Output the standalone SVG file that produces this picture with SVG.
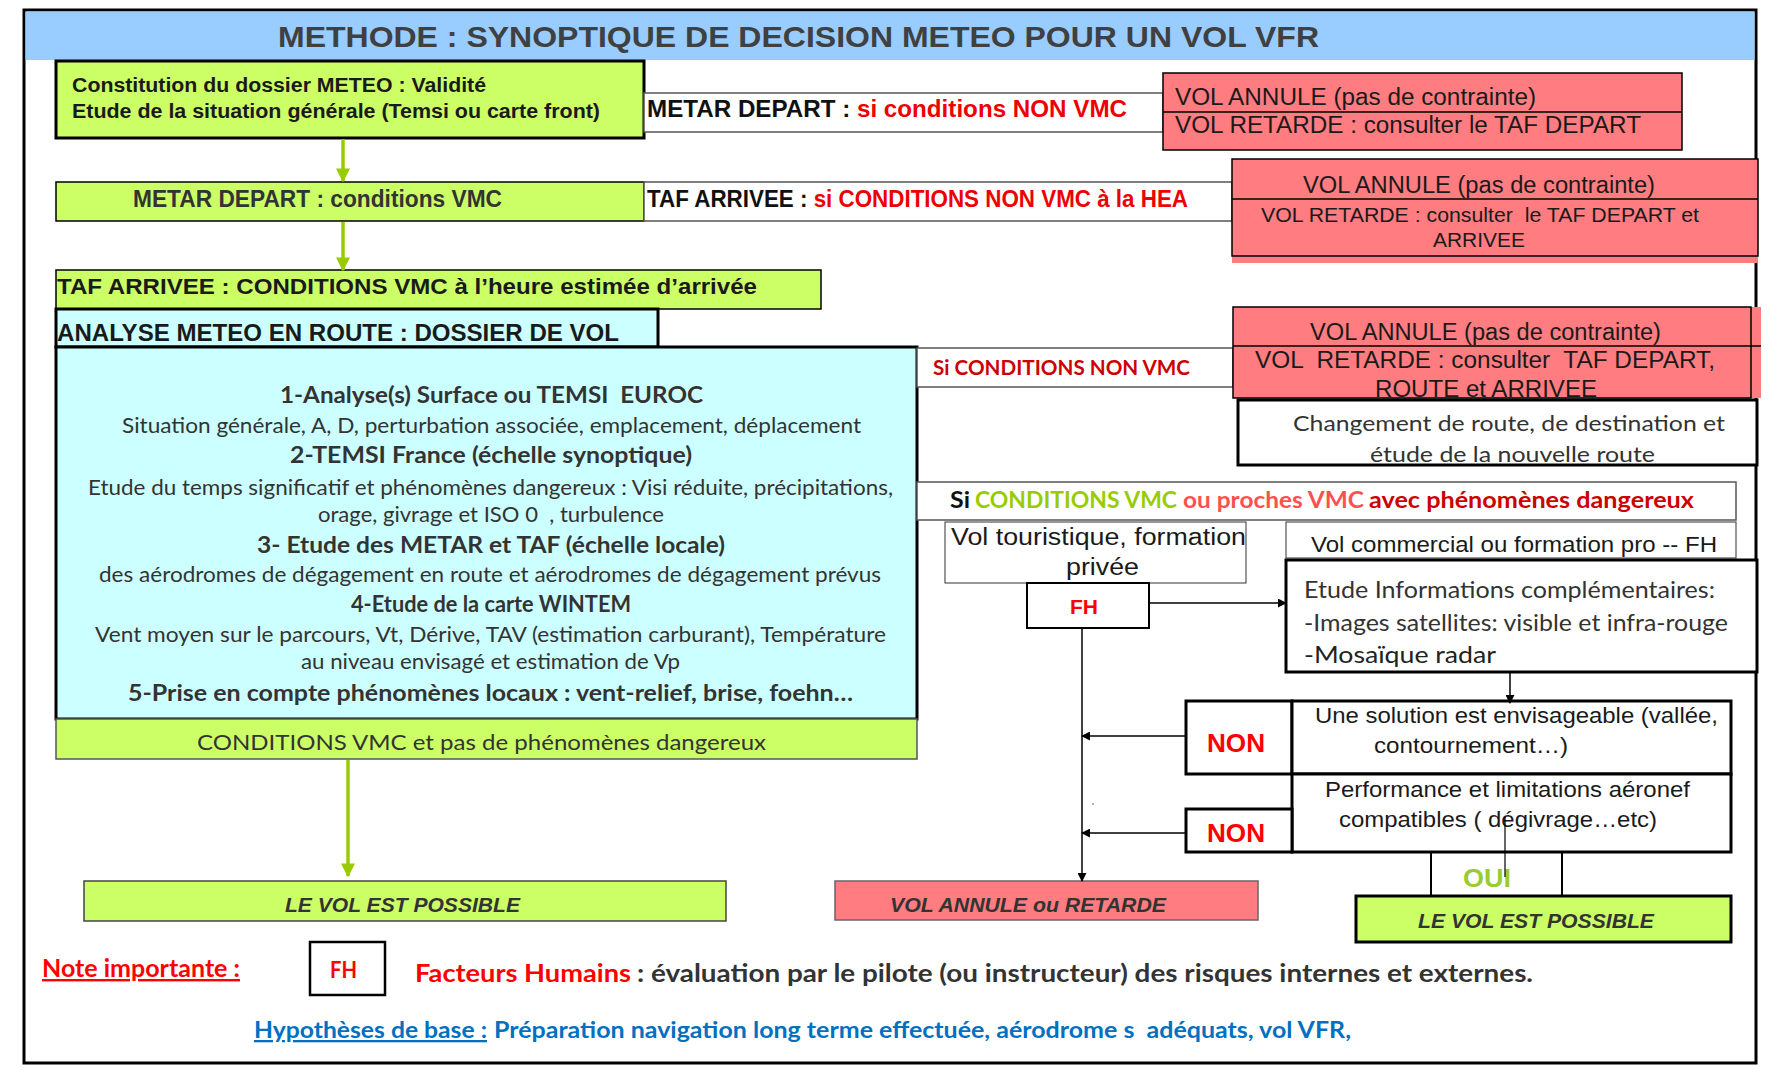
<svg xmlns="http://www.w3.org/2000/svg" width="1774" height="1078" viewBox="0 0 1774 1078">
<style>
.a{font-family:"Liberation Sans",Arial,sans-serif;white-space:pre}
.c{font-family:Lato,"Open Sans",sans-serif;white-space:pre}
.b{font-weight:bold}
.i{font-style:italic}
.green{fill:#CCFF66}
.red{fill:#FF7C80}
.cyan{fill:#CCFFFF}
.thin{stroke:#000;stroke-width:1.5}
.thick{stroke:#000;stroke-width:3}
.gline{fill:#fff;stroke:#555;stroke-width:1.5}
.dk{fill:#1a1a1a}
.gr{fill:#333}
</style>
<defs>
<marker id="ga" viewBox="0 0 10 10" refX="9" refY="5" markerWidth="4" markerHeight="4" orient="auto" markerUnits="strokeWidth"><path d="M0,0 L10,5 L0,10 z" fill="#99CC00"/></marker>
<marker id="ka" viewBox="0 0 10 10" refX="9" refY="5" markerWidth="9" markerHeight="9" orient="auto" markerUnits="userSpaceOnUse"><path d="M0,0 L10,5 L0,10 z" fill="#000"/></marker>
</defs>
<rect x="0" y="0" width="1774" height="1078" fill="#fff"/>
<g id="frame">
<rect x="24" y="10" width="1732" height="1053" fill="#fff" stroke="#000" stroke-width="3"/>
<rect x="25.5" y="11.5" width="1729" height="48.5" fill="#99CCFF"/>
<text class="a b" x="278" y="47" font-size="30" fill="#404040" textLength="1041" lengthAdjust="spacingAndGlyphs">METHODE : SYNOPTIQUE DE DECISION METEO POUR UN VOL VFR</text>
</g>
<g id="n-dossier">
<rect x="56" y="61" width="588" height="77" class="green thick"/>
<text class="a b dk" x="72" y="92" font-size="20" textLength="414" lengthAdjust="spacingAndGlyphs">Constitution du dossier METEO : Validité</text>
<text class="a b dk" x="72" y="118" font-size="20" textLength="528" lengthAdjust="spacingAndGlyphs">Etude de la situation générale (Temsi ou carte front)</text>
</g>
<g id="n-metar-nonvmc">
<rect x="644" y="93" width="519" height="39" class="gline"/>
<text class="a b" x="647" y="117" font-size="23" textLength="480" lengthAdjust="spacingAndGlyphs"><tspan fill="#111">METAR DEPART : </tspan><tspan fill="#EE0000">si conditions NON VMC</tspan></text>
</g>
<g id="n-red1">
<rect x="1163" y="73" width="519" height="77" class="red thin"/>
<line x1="1163" y1="112" x2="1682" y2="112" class="thin"/>
<text class="a dk" x="1175" y="105" font-size="23" textLength="361" lengthAdjust="spacingAndGlyphs">VOL ANNULE (pas de contrainte)</text>
<text class="a dk" x="1175" y="133" font-size="23" textLength="466" lengthAdjust="spacingAndGlyphs">VOL RETARDE : consulter le TAF DEPART</text>
</g>
<g id="n-metar-vmc">
<rect x="56" y="182" width="588" height="39" class="green thin"/>
<text class="a b" x="133" y="207" font-size="23" fill="#333" textLength="369" lengthAdjust="spacingAndGlyphs">METAR DEPART : conditions VMC</text>
</g>
<g id="n-taf-nonvmc">
<rect x="644" y="182" width="588" height="39" class="gline"/>
<text class="a b" x="647" y="207" font-size="23" textLength="541" lengthAdjust="spacingAndGlyphs"><tspan fill="#111">TAF ARRIVEE : </tspan><tspan fill="#EE0000">si CONDITIONS NON VMC à la HEA</tspan></text>
</g>
<g id="n-red2">
<rect x="1232" y="159" width="526" height="104" class="red"/>
<rect x="1232" y="159" width="526" height="97" fill="none" class="thin"/>
<line x1="1232" y1="199" x2="1758" y2="199" class="thin"/>
<text class="a dk" x="1303" y="193" font-size="23" textLength="352" lengthAdjust="spacingAndGlyphs">VOL ANNULE (pas de contrainte)</text>
<text class="a dk" x="1261" y="222" font-size="21" textLength="438" lengthAdjust="spacingAndGlyphs">VOL RETARDE : consulter  le TAF DEPART et</text>
<text class="a dk" x="1433" y="247" font-size="21" textLength="92" lengthAdjust="spacingAndGlyphs">ARRIVEE</text>
</g>
<g id="n-taf-vmc">
<rect x="56" y="270" width="765" height="39" class="green thin"/>
<text class="a b dk" x="57" y="294" font-size="22" textLength="700" lengthAdjust="spacingAndGlyphs">TAF ARRIVEE : CONDITIONS VMC à l’heure estimée d’arrivée</text>
</g>
<g id="n-analyse">
<rect x="56" y="309" width="602" height="38" class="cyan thick"/>
<text class="a b dk" x="57" y="341" font-size="24" textLength="562" lengthAdjust="spacingAndGlyphs">ANALYSE METEO EN ROUTE : DOSSIER DE VOL</text>
</g>
<g id="n-dossier-vol">
<rect x="56" y="347" width="861" height="372" class="cyan thick"/>
<g font-size="22" fill="#333">
<text class="c b" x="280" y="403" font-size="23" textLength="423" lengthAdjust="spacingAndGlyphs">1-Analyse(s) Surface ou TEMSI  EUROC</text>
<text class="c" x="122" y="433" textLength="739" lengthAdjust="spacingAndGlyphs">Situation générale, A, D, perturbation associée, emplacement, déplacement</text>
<text class="c b" x="290" y="463" font-size="23" textLength="402" lengthAdjust="spacingAndGlyphs">2-TEMSI France (échelle synoptique)</text>
<text class="c" x="88" y="495" textLength="805" lengthAdjust="spacingAndGlyphs">Etude du temps significatif et phénomènes dangereux : Visi réduite, précipitations,</text>
<text class="c" x="318" y="522" textLength="346" lengthAdjust="spacingAndGlyphs">orage, givrage et ISO 0  , turbulence</text>
<text class="c b" x="257" y="553" font-size="23" textLength="468" lengthAdjust="spacingAndGlyphs">3- Etude des METAR et TAF (échelle locale)</text>
<text class="c" x="99" y="582" textLength="782" lengthAdjust="spacingAndGlyphs">des aérodromes de dégagement en route et aérodromes de dégagement prévus</text>
<text class="c b" x="351" y="612" font-size="22" textLength="280" lengthAdjust="spacingAndGlyphs">4-Etude de la carte WINTEM</text>
<text class="c" x="95" y="642" textLength="791" lengthAdjust="spacingAndGlyphs">Vent moyen sur le parcours, Vt, Dérive, TAV (estimation carburant), Température</text>
<text class="c" x="301" y="669" textLength="379" lengthAdjust="spacingAndGlyphs">au niveau envisagé et estimation de Vp</text>
<text class="c b" x="128" y="701" font-size="23" textLength="725" lengthAdjust="spacingAndGlyphs">5-Prise en compte phénomènes locaux : vent-relief, brise, foehn…</text>
</g>
</g>
<g id="n-cond-vmc">
<rect x="56" y="719" width="861" height="40" class="green" stroke="#555" stroke-width="1.5"/>
<text class="c" x="197" y="750" font-size="22" fill="#333" textLength="569" lengthAdjust="spacingAndGlyphs">CONDITIONS VMC et pas de phénomènes dangereux</text>
</g>
<g id="n-si-nonvmc">
<rect x="917" y="348" width="316" height="39" class="gline" stroke="#000"/>
<text class="c b" x="933" y="375" font-size="21" fill="#CC0000" textLength="257" lengthAdjust="spacingAndGlyphs">Si CONDITIONS NON VMC</text>
</g>
<g id="n-red3">
<rect x="1233" y="307" width="528" height="91" class="red"/>
<rect x="1233" y="307" width="518" height="91" fill="none" class="thin" stroke="#555"/>
<line x1="1233" y1="346" x2="1761" y2="346" class="thin"/>
<text class="a dk" x="1310" y="340" font-size="23" textLength="351" lengthAdjust="spacingAndGlyphs">VOL ANNULE (pas de contrainte)</text>
<text class="a dk" x="1255" y="368" font-size="23" textLength="460" lengthAdjust="spacingAndGlyphs">VOL  RETARDE : consulter  TAF DEPART,</text>
<text class="a dk" x="1375" y="397" font-size="23" textLength="222" lengthAdjust="spacingAndGlyphs">ROUTE et ARRIVEE</text>
</g>
<g id="n-changement">
<rect x="1238" y="400" width="519" height="65" fill="#fff" class="thick"/>
<text class="c" x="1293" y="431" font-size="22" fill="#333" textLength="432" lengthAdjust="spacingAndGlyphs">Changement de route, de destination et</text>
<text class="c" x="1370" y="462" font-size="22" fill="#333" textLength="285" lengthAdjust="spacingAndGlyphs">étude de la nouvelle route</text>
</g>
<g id="n-si-vmc">
<rect x="917" y="482" width="819" height="38" class="gline"/>
<text class="c b" x="950" y="508" font-size="22" fill="#111" textLength="20" lengthAdjust="spacingAndGlyphs">Si</text>
<text class="c b" x="975" y="508" font-size="22" fill="#99CC00" textLength="202" lengthAdjust="spacingAndGlyphs">CONDITIONS VMC</text>
<text class="c b" x="1183" y="508" font-size="22" fill="#FF5050" textLength="181" lengthAdjust="spacingAndGlyphs">ou proches VMC</text>
<text class="c b" x="1369" y="508" font-size="22" fill="#CC0000" textLength="325" lengthAdjust="spacingAndGlyphs">avec phénomènes dangereux</text>
</g>
<g id="n-touristique">
<rect x="945" y="522" width="301" height="61" fill="#fff" stroke="#333" stroke-width="1"/>
<text class="a dk" x="951" y="545" font-size="23" textLength="295" lengthAdjust="spacingAndGlyphs">Vol touristique, formation</text>
<text class="a dk" x="1066" y="575" font-size="23" textLength="73" lengthAdjust="spacingAndGlyphs">privée</text>
</g>
<g id="n-fh">
<rect x="1027" y="583" width="122" height="45" fill="#fff" stroke="#000" stroke-width="2"/>
<text class="a b" x="1070" y="614" font-size="21" fill="#FF0000" textLength="28" lengthAdjust="spacingAndGlyphs">FH</text>
</g>
<g id="n-commercial">
<rect x="1286" y="522" width="450" height="36" fill="#fff" stroke="#333" stroke-width="1"/>
<text class="a dk" x="1311" y="552" font-size="22" textLength="406" lengthAdjust="spacingAndGlyphs">Vol commercial ou formation pro -- FH</text>
</g>
<g id="n-etude">
<rect x="1286" y="560" width="471" height="112" fill="#fff" class="thick"/>
<text class="c" x="1304" y="598" font-size="23" fill="#333" textLength="411" lengthAdjust="spacingAndGlyphs">Etude Informations complémentaires:</text>
<text class="c" x="1304" y="631" font-size="23" fill="#333" textLength="424" lengthAdjust="spacingAndGlyphs">-Images satellites: visible et infra-rouge</text>
<text class="c" x="1304" y="663" font-size="23" fill="#222" textLength="192" lengthAdjust="spacingAndGlyphs">-Mosaïque radar</text>
</g>
<g id="n-non1">
<rect x="1186" y="701" width="106" height="73" fill="#fff" class="thick"/>
<text class="a b" x="1207" y="752" font-size="25" fill="#FF0000" textLength="58" lengthAdjust="spacingAndGlyphs">NON</text>
</g>
<g id="n-solution">
<rect x="1292" y="701" width="439" height="73" fill="#fff" class="thick"/>
<text class="a dk" x="1315" y="723" font-size="22" textLength="403" lengthAdjust="spacingAndGlyphs">Une solution est envisageable (vallée,</text>
<text class="a dk" x="1374" y="753" font-size="22" textLength="194" lengthAdjust="spacingAndGlyphs">contournement…)</text>
</g>
<g id="n-performance">
<rect x="1292" y="774" width="439" height="78" fill="#fff" class="thick"/>
<text class="a dk" x="1325" y="797" font-size="22" textLength="365" lengthAdjust="spacingAndGlyphs">Performance et limitations aéronef</text>
<text class="a dk" x="1339" y="827" font-size="22" textLength="318" lengthAdjust="spacingAndGlyphs">compatibles ( dégivrage…etc)</text>
</g>
<g id="n-non2">
<rect x="1186" y="809" width="106" height="43" fill="#fff" class="thick"/>
<text class="a b" x="1207" y="842" font-size="25" fill="#FF0000" textLength="58" lengthAdjust="spacingAndGlyphs">NON</text>
</g>
<g id="n-oui">
<text class="a b" x="1463" y="887" font-size="25" fill="#99CC33" textLength="48" lengthAdjust="spacingAndGlyphs">OUI</text>
</g>
<g id="n-possible-left">
<rect x="84" y="881" width="642" height="40" class="green" stroke="#444" stroke-width="1.5"/>
<text class="a b i" x="285" y="912" font-size="21" fill="#333" textLength="235" lengthAdjust="spacingAndGlyphs">LE VOL EST POSSIBLE</text>
</g>
<g id="n-annule">
<rect x="835" y="881" width="423" height="39" class="red" stroke="#666" stroke-width="1.5"/>
<text class="a b i" x="890" y="912" font-size="21" fill="#333" textLength="276" lengthAdjust="spacingAndGlyphs">VOL ANNULE ou RETARDE</text>
</g>
<g id="n-possible-right">
<rect x="1356" y="896" width="375" height="46" class="green thick"/>
<text class="a b i" x="1418" y="928" font-size="21" fill="#333" textLength="236" lengthAdjust="spacingAndGlyphs">LE VOL EST POSSIBLE</text>
</g>
<g id="n-note">
<text class="c b" x="42" y="977" font-size="24" fill="#FF0000" text-decoration="underline" textLength="198" lengthAdjust="spacingAndGlyphs">Note importante :</text>
<rect x="310" y="942" width="75" height="53" fill="#fff" stroke="#000" stroke-width="2.5"/>
<text class="c b" x="330" y="978" font-size="23" fill="#FF0000" textLength="27" lengthAdjust="spacingAndGlyphs">FH</text>
<text class="c b" x="415" y="982" font-size="25" fill="#FF0000" textLength="216" lengthAdjust="spacingAndGlyphs">Facteurs Humains</text>
<text class="c b" x="637" y="982" font-size="25" fill="#333" textLength="896" lengthAdjust="spacingAndGlyphs">: évaluation par le pilote (ou instructeur) des risques internes et externes.</text>
<text class="c b" x="254" y="1038" font-size="23" fill="#0070C0" text-decoration="underline" textLength="233" lengthAdjust="spacingAndGlyphs">Hypothèses de base :</text>
<text class="c b" x="494" y="1038" font-size="23" fill="#0070C0" textLength="857" lengthAdjust="spacingAndGlyphs">Préparation navigation long terme effectuée, aérodrome s  adéquats, vol VFR,</text>
</g>
<g id="connectors" fill="none">
<line x1="343" y1="139" x2="343" y2="181" stroke="#99CC00" stroke-width="3.5" marker-end="url(#ga)"/>
<line x1="343" y1="222" x2="343" y2="270" stroke="#99CC00" stroke-width="3.5" marker-end="url(#ga)"/>
<line x1="348" y1="760" x2="348" y2="876" stroke="#99CC00" stroke-width="3.5" marker-end="url(#ga)"/>
<line x1="1149" y1="603" x2="1286" y2="603" stroke="#000" stroke-width="1.5" marker-end="url(#ka)"/>
<line x1="1510" y1="672" x2="1510" y2="703" stroke="#000" stroke-width="1.5" marker-end="url(#ka)"/>
<line x1="1186" y1="736" x2="1082" y2="736" stroke="#000" stroke-width="1.5" marker-end="url(#ka)"/>
<line x1="1186" y1="833" x2="1082" y2="833" stroke="#000" stroke-width="1.5" marker-end="url(#ka)"/>
<line x1="1082" y1="628" x2="1082" y2="881" stroke="#000" stroke-width="1.5" marker-end="url(#ka)"/>
<line x1="1431" y1="852" x2="1431" y2="896" stroke="#000" stroke-width="2"/>
<line x1="1562" y1="852" x2="1562" y2="896" stroke="#000" stroke-width="2"/>
<line x1="1505" y1="817" x2="1505" y2="877" stroke="#000" stroke-width="1.2"/>
<circle cx="1093" cy="804" r="0.8" fill="#555"/>
</g>
</svg>
